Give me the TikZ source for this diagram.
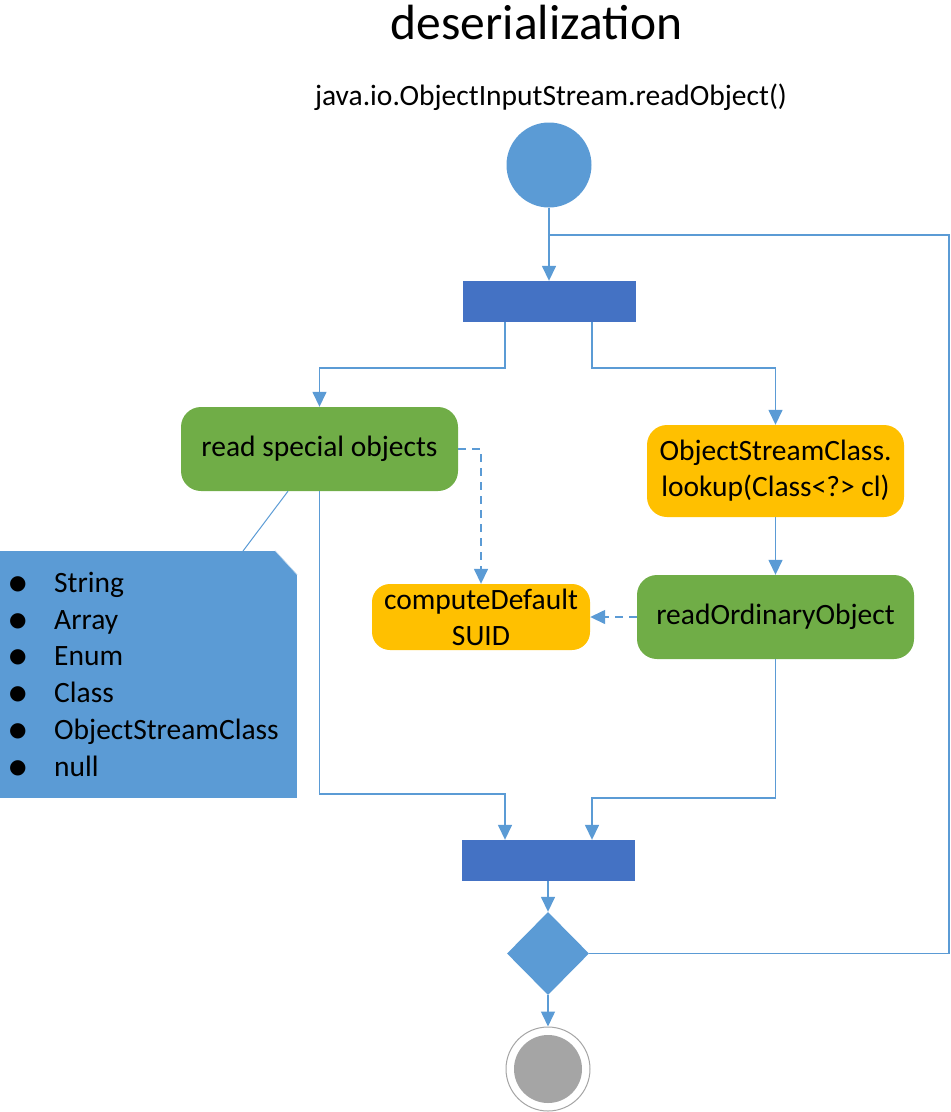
\documentclass[tikz,border=0pt]{standalone}
\usepackage{fontspec}
\setmainfont{Carlito}
\newfontfamily\djv{DejaVu Sans}
\usetikzlibrary{arrows.meta,shapes.geometric}
\definecolor{lb}{HTML}{5B9BD5}
\definecolor{db}{HTML}{4472C4}
\definecolor{gr}{HTML}{70AD47}
\definecolor{og}{HTML}{FFC000}
\definecolor{gy}{HTML}{A5A5A5}
\newcommand{\bigbul}{\raisebox{3pt}{\djv\fontsize{20}{20}\selectfont ●}}
\begin{document}
\begin{tikzpicture}[x=1pt,y=-1pt,
  font=\fontsize{29.5}{36}\selectfont,
  act/.style={rectangle, rounded corners=20pt, inner sep=0pt, align=center, text=black},
  gbox/.style={act, fill=gr, minimum width=277pt, minimum height=84pt},
  obox/.style={act, fill=og},
  bar/.style={rectangle, fill=db, minimum width=173pt, minimum height=41pt, inner sep=0pt},
  link/.style={draw=lb, line width=1.5pt},
  flow/.style={link, -{Triangle[length=15pt,width=14pt]}},
  dflow/.style={flow, dash pattern=on 8pt off 6pt},
  lbl/.style={inner sep=0pt, text=black}]
\useasboundingbox (0,0) rectangle (951,1112);

% titles
\node[lbl, font=\fontsize{49.5}{56}\selectfont] (title) at (536.5,22) {deserialization};
\node[lbl] (sub) at (551,97) {java.io.ObjectInputStream.readObject()};

% nodes
\node[circle, fill=lb, minimum size=85pt, inner sep=0pt] (start) at (549,165) {};
\node[bar] (bar1) at (549,301.5) {};
\node[gbox] (rs) at (319.5,449) {read special objects};
\node[obox, minimum width=257pt, minimum height=92pt] (lk) at (775.5,471) {ObjectStreamClass.\\lookup(Class<?> cl)};
\node[gbox] (rod) at (775.5,617) {readOrdinaryObject};
\node[obox, rounded corners=18pt, minimum width=218pt, minimum height=66pt] (cd) at (481,617) {computeDefault\\SUID};
\node[bar] (bar2) at (548,860.5) {};
\node[diamond, fill=lb, minimum width=82pt, minimum height=83pt, inner sep=0pt] (dia) at (548,953.5) {};
\node[circle, draw=gy, fill=white, line width=1pt, minimum size=84pt, inner sep=0pt] (end) at (548,1069) {};
\node[circle, fill=gy, minimum size=68pt, inner sep=0pt] (endin) at (end) {};

% note
\node[rectangle, fill=lb, minimum width=297pt, minimum height=247pt, inner sep=0pt] (note) at (148.5,674.5) {};
\fill[white] (note.north east) -- ++(-22,0) -- ++(22,24) -- cycle;
\draw[lb!45, line width=0.6pt] ([xshift=-22pt]note.north east) -- ([yshift=-24pt]note.north east);
\node[lbl, anchor=west, align=left, font=\fontsize{29.5}{36.8}\selectfont] (notetext) at (9,677) {%
  \begin{tabular}{@{}p{45pt}@{}l@{}}
  \bigbul & String\\
  \bigbul & Array\\
  \bigbul & Enum\\
  \bigbul & Class\\
  \bigbul & ObjectStreamClass\\
  \bigbul & null
  \end{tabular}};
\coordinate (nt) at (243,551);
\draw[lb, line width=1pt] (nt) -- ([xshift=-31.5pt]rs.south);

% connectors
\coordinate (j) at (549,235);
\coordinate (rc) at (949,235);
\draw[flow] (start.south) -- (bar1.north);
\draw[flow] ([xshift=-44pt]bar1.south) -- ++(0,46) -| (rs.north);
\draw[flow] ([xshift=43pt]bar1.south) -- ++(0,46) -| (lk.north);
\draw[flow] (lk.south) -- (rod.north);
\draw[dflow] (rs.east) -| (cd.north);
\draw[dflow] (rod.west) -- (cd.east);
\draw[flow] (rs.south) -- ++(0,303) -| ([xshift=-43pt]bar2.north);
\draw[flow] (rod.south) -- ++(0,139) -| ([xshift=44pt]bar2.north);
\draw[flow] (bar2.south) -- (dia.north);
\draw[flow] (dia.south) -- (end.north);
\draw[link] (dia.east) -| (rc) -- (j);
\end{tikzpicture}
\end{document}
